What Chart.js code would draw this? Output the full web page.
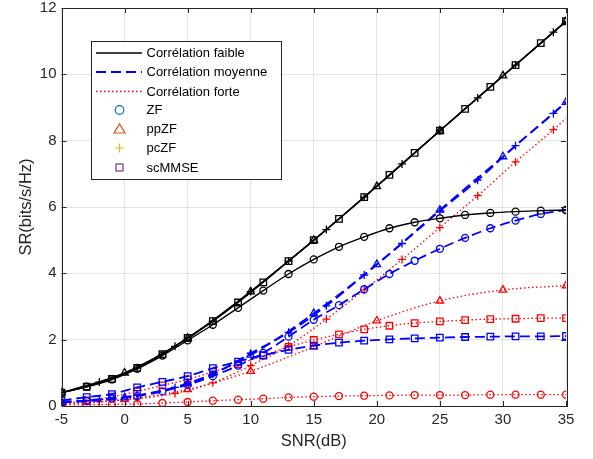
<!DOCTYPE html>
<html>
<head>
<meta charset="utf-8">
<script src="https://cdn.jsdelivr.net/npm/chart.js@4.4.1/dist/chart.umd.min.js"></script>
<style>
    body { margin: 0; background: #fff; }
    #wrap { width: 593px; height: 459px; }
</style>
</head>
<body>
<div id="wrap"><canvas id="my-chart" width="593" height="459"></canvas></div>
<script>
// SNR grids where each marker type sits
const snrOdd = [-5, -3, -1, 1, 3, 5, 7, 9, 11, 13, 15, 17, 19, 21, 23, 25, 27, 29, 31, 33, 35];
const snrTri = [-5, 0, 5, 10, 15, 20, 25, 30, 35];
const snrPlus = [-5, -2, 1, 4, 7, 10, 13, 16, 19, 22, 25, 28, 31, 34, 35];

const xTicks = [-5, 0, 5, 10, 15, 20, 25, 30, 35];
const yTicks = [0, 2, 4, 6, 8, 10, 12];

// Corrélation faible
const zfWeak = [0.40, 0.58, 0.80, 1.12, 1.52, 1.98, 2.45, 2.96, 3.48, 3.98, 4.42, 4.80, 5.10, 5.36, 5.54, 5.66, 5.76, 5.82, 5.86, 5.89, 5.91];
const scWeak = [0.40, 0.58, 0.82, 1.15, 1.56, 2.05, 2.56, 3.12, 3.73, 4.37, 5.00, 5.64, 6.30, 6.97, 7.63, 8.30, 8.96, 9.62, 10.28, 10.94, 11.60];
const ppWeak = [0.40, 1.00, 2.05, 3.45, 5.00, 6.62, 8.30, 9.96, 11.60];
const pcWeak = [0.40, 0.72, 1.15, 1.80, 2.56, 3.45, 4.37, 5.32, 6.30, 7.30, 8.30, 9.29, 10.28, 11.27, 11.60];

// Corrélation moyenne
const zfMed = [0.10, 0.15, 0.22, 0.30, 0.44, 0.64, 0.90, 1.22, 1.60, 2.09, 2.60, 3.04, 3.52, 3.98, 4.38, 4.74, 5.07, 5.36, 5.59, 5.79, 5.91];
const scMed = [0.16, 0.27, 0.36, 0.56, 0.73, 0.90, 1.14, 1.34, 1.53, 1.69, 1.82, 1.91, 1.97, 2.01, 2.04, 2.06, 2.08, 2.09, 2.10, 2.10, 2.11];
const ppMed = [0.12, 0.25, 0.68, 1.54, 2.79, 4.27, 5.91, 7.52, 9.16];
const pcMed = [0.12, 0.20, 0.32, 0.56, 0.96, 1.59, 2.22, 3.02, 3.95, 4.90, 5.88, 6.81, 7.85, 8.82, 9.16];

// Corrélation forte
const zfStr = [0.03, 0.04, 0.05, 0.06, 0.09, 0.12, 0.16, 0.19, 0.22, 0.26, 0.28, 0.30, 0.31, 0.32, 0.33, 0.33, 0.33, 0.34, 0.34, 0.34, 0.34];
const scStr = [0.08, 0.17, 0.28, 0.44, 0.62, 0.80, 1.03, 1.26, 1.52, 1.78, 1.99, 2.16, 2.31, 2.42, 2.50, 2.55, 2.59, 2.62, 2.63, 2.65, 2.65];
const ppStr = [0.05, 0.20, 0.50, 1.05, 1.79, 2.57, 3.17, 3.50, 3.63];
const pcStr = [0.05, 0.13, 0.22, 0.38, 0.70, 1.22, 1.82, 2.62, 3.50, 4.42, 5.38, 6.34, 7.36, 8.33, 8.67];

const FONT = "'Liberation Sans', Arial, Helvetica, sans-serif";

const styles = {
    weak: { color: '#000000', dash: [], width: 1.4 },
    med: { color: '#0000ff', dash: [10, 5], width: 1.8 },
    str: { color: '#ff0000', dash: [1.5, 2.5], width: 1.3 }
};

const markerSize = { circle: 3.5, rect: 4.6, triangle: 4.3, cross: 4 };

function serie(xs, ys, corr, marker, lastHidden) {
    let st = styles[corr];
    let size = markerSize[marker];
    return {
        data: xs.map((x, i) => ({ x: x, y: ys[i] })),
        borderColor: st.color,
        borderWidth: st.width,
        borderDash: st.dash,
        cubicInterpolationMode: 'monotone',
        pointStyle: marker,
        pointRadius: (ctx) => (lastHidden && ctx.dataIndex === xs.length - 1) ? 0 : size,
        pointBorderColor: st.color,
        pointBackgroundColor: 'rgba(0,0,0,0)',
        pointBorderWidth: 1.3,
        pointHoverRadius: 0,
        fill: false
    };
}

let datasets = [];
[['weak', zfWeak, scWeak, ppWeak, pcWeak], ['med', zfMed, scMed, ppMed, pcMed], ['str', zfStr, scStr, ppStr, pcStr]].forEach(g => {
    datasets.push(serie(snrOdd, g[1], g[0], 'circle', false));
    datasets.push(serie(snrOdd, g[2], g[0], 'rect', false));
    datasets.push(serie(snrTri, g[3], g[0], 'triangle', false));
    datasets.push(serie(snrPlus, g[4], g[0], 'cross', true));
});

// box, inward ticks and the legend, drawn on top like matlab
const framePlugin = {
    id: 'frame',
    afterDraw(chart) {
        let c = chart.ctx;
        let a = chart.chartArea;
        let xs = chart.scales.x, ys = chart.scales.y;
        c.save();
        c.strokeStyle = '#262626';
        c.lineWidth = 1;
        c.setLineDash([]);
        c.strokeRect(Math.round(a.left) + 0.5, Math.round(a.top) + 0.5, Math.round(a.right - a.left), Math.round(a.bottom - a.top));
        c.beginPath();
        xTicks.forEach(t => {
            let px = Math.round(xs.getPixelForValue(t)) + 0.5;
            c.moveTo(px, a.bottom); c.lineTo(px, a.bottom - 5);
            c.moveTo(px, a.top); c.lineTo(px, a.top + 5);
        });
        yTicks.forEach(t => {
            let py = Math.round(ys.getPixelForValue(t)) + 0.5;
            c.moveTo(a.left, py); c.lineTo(a.left + 5, py);
            c.moveTo(a.right, py); c.lineTo(a.right - 5, py);
        });
        c.stroke();

        // legend
        let lx = 91.5, ly = 41.5, lw = 190, lh = 138;
        c.fillStyle = '#fff';
        c.fillRect(lx, ly, lw, lh);
        c.strokeStyle = '#262626';
        c.strokeRect(lx, ly, lw, lh);
        let rows = [53, 72, 91.5, 110, 129, 148, 167.5];
        let names = ['Corrélation faible', 'Corrélation moyenne', 'Corrélation forte', 'ZF', 'ppZF', 'pcZF', 'scMMSE'];
        c.font = '13px ' + FONT;
        c.textBaseline = 'middle';
        c.fillStyle = '#000';
        names.forEach((n, i) => c.fillText(n, 146.5, rows[i] + 0.5));
        ['weak', 'med', 'str'].forEach((k, i) => {
            let st = styles[k];
            c.strokeStyle = st.color;
            c.lineWidth = st.width;
            c.setLineDash(st.dash);
            c.beginPath();
            c.moveTo(96, rows[i]); c.lineTo(142, rows[i]);
            c.stroke();
        });
        c.setLineDash([]);
        c.lineWidth = 1.2;
        let mx = 119.5;
        c.strokeStyle = '#0072BD';
        c.beginPath(); c.arc(mx, rows[3], 4.3, 0, Math.PI * 2); c.stroke();
        c.strokeStyle = '#D95319';
        c.beginPath(); c.moveTo(mx - 5.5, rows[4] + 4); c.lineTo(mx + 5.5, rows[4] + 4); c.lineTo(mx, rows[4] - 5); c.closePath(); c.stroke();
        c.strokeStyle = '#EDB120';
        c.beginPath(); c.moveTo(mx - 4.5, rows[5]); c.lineTo(mx + 4.5, rows[5]); c.moveTo(mx, rows[5] - 4.5); c.lineTo(mx, rows[5] + 4.5); c.stroke();
        c.strokeStyle = '#7E2F8E';
        c.strokeRect(mx - 3.5, rows[6] - 3.5, 7, 7);
        c.restore();
    }
};

let myChart = document.getElementById('my-chart').getContext('2d');
let srChart = new Chart(myChart, {
    type: 'line',
    data: { datasets: datasets },
    plugins: [framePlugin],
    options: {
        responsive: false,
        animation: false,
        layout: { padding: { top: 8, right: 27, left: 0, bottom: 0 } },
        plugins: {
            legend: { display: false },
            tooltip: { enabled: false }
        },
        scales: {
            x: {
                type: 'linear',
                min: -5,
                max: 35,
                afterFit: (scale) => { scale.height = 53; scale.paddingLeft = 0; scale.paddingRight = 0; },
                afterBuildTicks: (scale) => { scale.ticks = xTicks.map(v => ({ value: v })); },
                ticks: { color: '#262626', font: { family: FONT, size: 15 }, padding: 5, maxRotation: 0 },
                grid: { color: '#e3e3e3', drawTicks: false },
                border: { display: false },
                title: { display: true, text: 'SNR(dB)', color: '#262626', font: { family: FONT, size: 16.5 }, padding: { top: 0, bottom: 8 } }
            },
            y: {
                type: 'linear',
                min: 0,
                max: 12,
                afterFit: (scale) => { scale.width = 61.5; scale.paddingTop = 0; scale.paddingBottom = 0; },
                afterBuildTicks: (scale) => { scale.ticks = yTicks.map(v => ({ value: v })); },
                ticks: { color: '#262626', font: { family: FONT, size: 15 }, padding: 5 },
                grid: { color: '#e3e3e3', drawTicks: false },
                border: { display: false },
                title: { display: true, text: 'SR(bits/s/Hz)', color: '#262626', font: { family: FONT, size: 16.5 }, padding: { top: 17, bottom: 0 } }
            }
        }
    }
});
</script>
</body>
</html>
